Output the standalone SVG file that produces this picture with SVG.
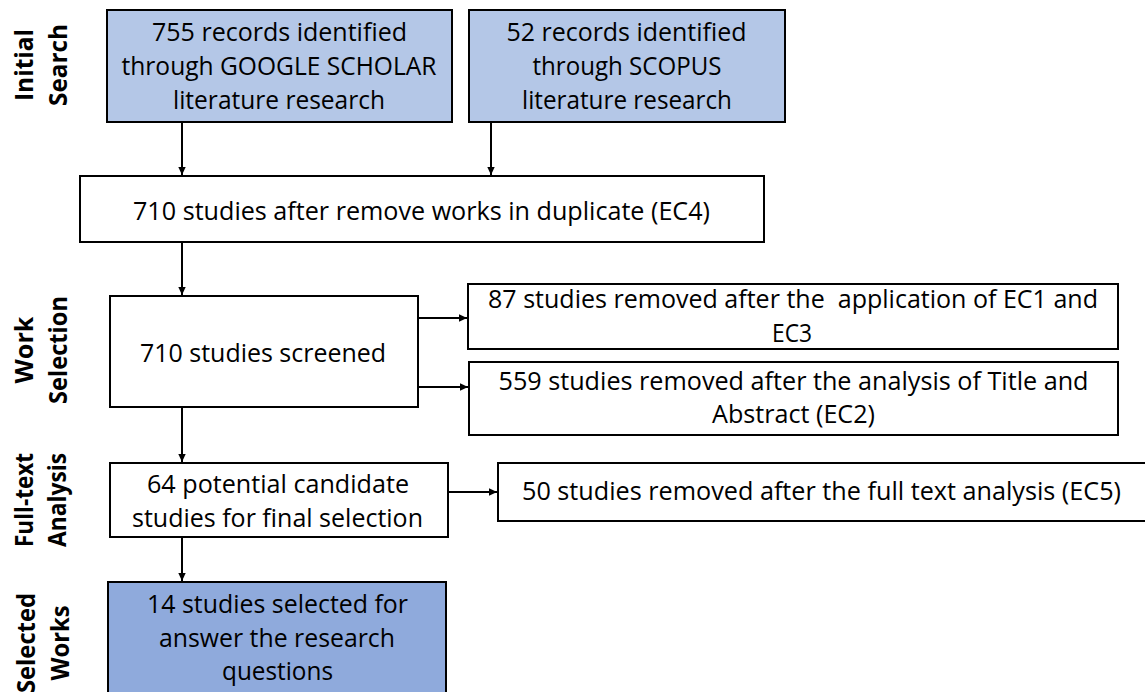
<svg xmlns="http://www.w3.org/2000/svg" width="1145" height="692" viewBox="0 0 1145 692">
  <style>
    .box { stroke: #000; stroke-width: 2; fill: #fff; }
    .light { fill: #b4c7e7; }
    .dark { fill: #8faadc; }
    .t { font-family: "Open Sans", "Liberation Sans", sans-serif; font-size: 25px; fill: #000; text-anchor: middle; white-space: pre; }
    .lbl { font-family: "Open Sans", "Liberation Sans", sans-serif; font-size: 25px; font-weight: bold; fill: #000; text-anchor: middle; }
    .conn { stroke: #000; stroke-width: 2; fill: none; marker-end: url(#arr); }
  </style>
  <defs>
    <marker id="arr" markerWidth="9" markerHeight="9" refX="8" refY="4.5" orient="auto" markerUnits="userSpaceOnUse">
      <path d="M0,0.8 L8,4.5 L0,8.2 Z" fill="#000"/>
    </marker>
  </defs>
  <rect width="1145" height="692" fill="#fff"/>

  <g id="labels">
    <g id="lbl-initial" transform="translate(0,65)">
      <text class="lbl" transform="translate(33,0) rotate(-90)" textLength="72" lengthAdjust="spacingAndGlyphs">Initial</text>
      <text class="lbl" transform="translate(67,0) rotate(-90)" textLength="82" lengthAdjust="spacingAndGlyphs">Search</text>
    </g>
    <g id="lbl-work" transform="translate(0,350)">
      <text class="lbl" transform="translate(33,0) rotate(-90)" textLength="67" lengthAdjust="spacingAndGlyphs">Work</text>
      <text class="lbl" transform="translate(67,0) rotate(-90)" textLength="108" lengthAdjust="spacingAndGlyphs">Selection</text>
    </g>
    <g id="lbl-full" transform="translate(0,500)">
      <text class="lbl" transform="translate(33,0) rotate(-90)" textLength="94" lengthAdjust="spacingAndGlyphs">Full-text</text>
      <text class="lbl" transform="translate(66,0) rotate(-90)" textLength="94" lengthAdjust="spacingAndGlyphs">Analysis</text>
    </g>
    <g id="lbl-selected" transform="translate(0,643)">
      <text class="lbl" transform="translate(35,0) rotate(-90)" textLength="100" lengthAdjust="spacingAndGlyphs">Selected</text>
      <text class="lbl" transform="translate(69,0) rotate(-90)" textLength="75" lengthAdjust="spacingAndGlyphs">Works</text>
    </g>
  </g>

  <g id="connectors">
    <line class="conn" x1="182" y1="122" x2="182" y2="175"/>
    <line class="conn" x1="491" y1="122" x2="491" y2="175"/>
    <line class="conn" x1="182" y1="242" x2="182" y2="295"/>
    <line class="conn" x1="418" y1="318" x2="467" y2="318"/>
    <line class="conn" x1="418" y1="387" x2="468" y2="387"/>
    <line class="conn" x1="182" y1="407" x2="182" y2="462"/>
    <line class="conn" x1="448" y1="492" x2="497" y2="492"/>
    <line class="conn" x1="182" y1="537" x2="182" y2="581"/>
  </g>

  <g id="n-google">
    <rect class="box light" x="107" y="10" width="345" height="112"/>
    <text class="t" x="279.5" y="41" textLength="255" lengthAdjust="spacingAndGlyphs">755 records identified</text>
    <text class="t" x="279" y="75" textLength="315" lengthAdjust="spacingAndGlyphs">through GOOGLE SCHOLAR</text>
    <text class="t" x="279" y="109" textLength="212" lengthAdjust="spacingAndGlyphs">literature research</text>
  </g>

  <g id="n-scopus">
    <rect class="box light" x="469" y="10" width="316" height="112"/>
    <text class="t" x="626.5" y="41" textLength="240" lengthAdjust="spacingAndGlyphs">52 records identified</text>
    <text class="t" x="627" y="75" textLength="189" lengthAdjust="spacingAndGlyphs">through SCOPUS</text>
    <text class="t" x="627" y="109" textLength="210" lengthAdjust="spacingAndGlyphs">literature research</text>
  </g>

  <g id="n-dup">
    <rect class="box" x="80" y="176" width="684" height="66"/>
    <text class="t" x="421.5" y="220" textLength="577" lengthAdjust="spacingAndGlyphs">710 studies after remove works in duplicate (EC4)</text>
  </g>

  <g id="n-screened">
    <rect class="box" x="110" y="296" width="308" height="111"/>
    <text class="t" x="263" y="362" textLength="246" lengthAdjust="spacingAndGlyphs">710 studies screened</text>
  </g>

  <g id="n-ec13">
    <rect class="box" x="468" y="284" width="650" height="65"/>
    <text class="t" x="793" y="308" textLength="610" lengthAdjust="spacingAndGlyphs" xml:space="preserve">87 studies removed after the  application of EC1 and</text>
    <text class="t" x="792" y="342" textLength="40" lengthAdjust="spacingAndGlyphs">EC3</text>
  </g>

  <g id="n-ec2">
    <rect class="box" x="469" y="362" width="649" height="73"/>
    <text class="t" x="793.5" y="390" textLength="590" lengthAdjust="spacingAndGlyphs">559 studies removed after the analysis of Title and</text>
    <text class="t" x="793.5" y="423" textLength="163" lengthAdjust="spacingAndGlyphs">Abstract (EC2)</text>
  </g>

  <g id="n-candidates">
    <rect class="box" x="110" y="463" width="338" height="74"/>
    <text class="t" x="278" y="493" textLength="262" lengthAdjust="spacingAndGlyphs">64 potential candidate</text>
    <text class="t" x="277.5" y="527" textLength="291" lengthAdjust="spacingAndGlyphs">studies for final selection</text>
  </g>

  <g id="n-ec5">
    <rect class="box" x="498" y="463" width="650" height="58"/>
    <text class="t" x="821.5" y="500" textLength="599" lengthAdjust="spacingAndGlyphs">50 studies removed after the full text analysis (EC5)</text>
  </g>

  <g id="n-selected">
    <rect class="box dark" x="108" y="582" width="338" height="120"/>
    <text class="t" x="277.5" y="613" textLength="261" lengthAdjust="spacingAndGlyphs">14 studies selected for</text>
    <text class="t" x="277" y="647" textLength="236" lengthAdjust="spacingAndGlyphs">answer the research</text>
    <text class="t" x="277.5" y="680" textLength="111" lengthAdjust="spacingAndGlyphs">questions</text>
  </g>
</svg>
